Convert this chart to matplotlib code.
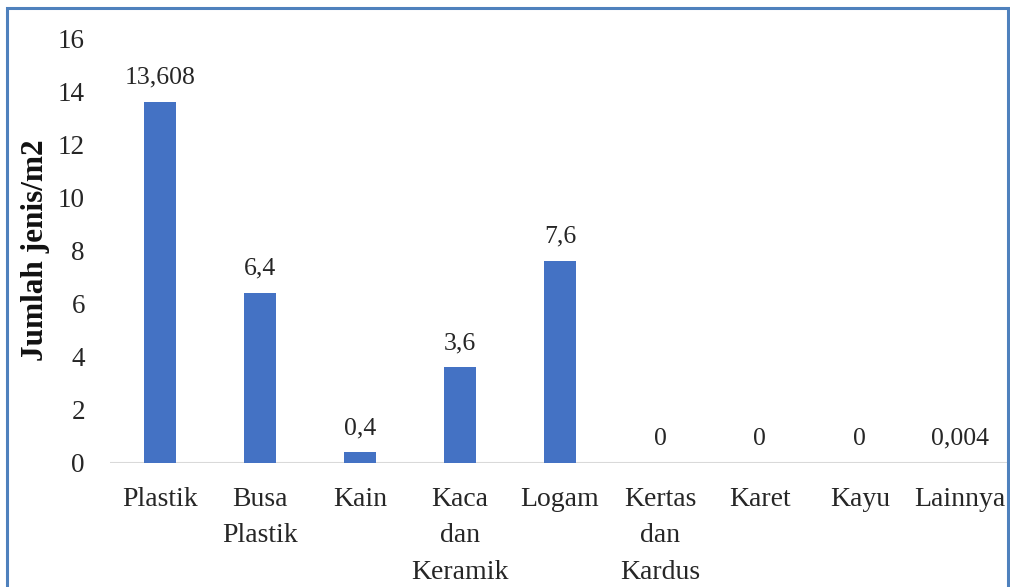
import matplotlib.pyplot as plt
from matplotlib.patches import Rectangle

categories = ["Plastik", "Busa\nPlastik", "Kain", "Kaca\ndan\nKeramik", "Logam",
              "Kertas\ndan\nKardus", "Karet", "Kayu", "Lainnya"]
values = [13.608, 6.4, 0.4, 3.6, 7.6, 0, 0, 0, 0.004]
value_labels = ["13,608", "6,4", "0,4", "3,6", "7,6", "0", "0", "0", "0,004"]
yticks = [0, 2, 4, 6, 8, 10, 12, 14, 16]

plt.rcParams["font.family"] = ["Liberation Serif", "DejaVu Serif"]

fig = plt.figure(figsize=(10.10, 5.87), dpi=100)
ax = fig.add_axes([110 / 1010, 1 - 463 / 587, 0.891, (463 - 38) / 587])

x = range(len(categories))
bars = ax.bar(x, values, width=0.32, color="#4472C4", zorder=2)
for b, lab in zip(bars, value_labels):
    ax.annotate(lab, xy=(b.get_x() + b.get_width() / 2, b.get_height()),
                xytext=(0, 9.5), textcoords="offset points",
                ha="center", va="bottom", fontsize=18.5, color="#262626")

ax.axhline(0, color="#D9D9D9", lw=1.5, zorder=1)
ax.set_xlim(-0.5, 8.5)
ax.set_ylim(0, 16)
ax.set_yticks(yticks)
ax.set_xticks(list(x))
ax.set_xticklabels(categories, linespacing=1.62, fontsize=20)
ax.tick_params(axis="both", length=0, colors="#262626")
ax.tick_params(axis="y", pad=18, labelsize=19.5)
ax.tick_params(axis="x", pad=17)
for s in ax.spines.values():
    s.set_visible(False)
ax.set_ylabel("Jumlah jenis/m2", fontsize=22.5, fontweight="bold", labelpad=6,
              color="#111111")

# blue frame around the figure (bottom edge falls outside the image)
fig.patches.append(Rectangle((7 / 1010, -0.1), 1001 / 1010, 1.1 - 8 / 587,
                             transform=fig.transFigure, fill=False,
                             edgecolor="#4F81BD", lw=2.2))

fig.savefig("out.png", dpi=100)
